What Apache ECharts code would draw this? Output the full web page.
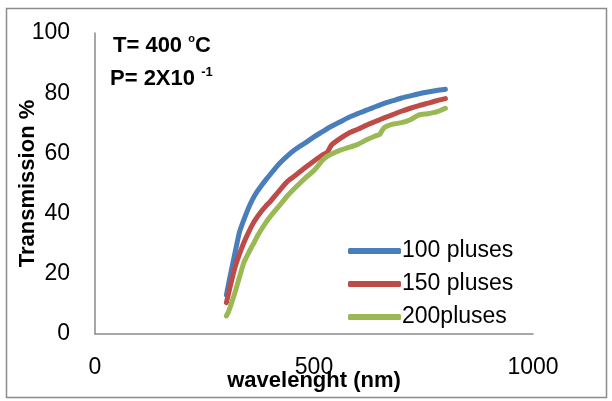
<!DOCTYPE html>
<html>
<head>
<meta charset="utf-8">
<script src="https://cdn.jsdelivr.net/npm/echarts@6/dist/echarts.min.js"></script>
<style>
  html, body { margin: 0; padding: 0; background: #fff; }
  #chart { width: 612px; height: 401px; }
</style>
</head>
<body>
<div id="chart"></div>
<script>
// Wavelength samples (nm)
var wavelength = [300, 305, 310, 320, 330, 340, 350, 360, 370, 380, 390, 400, 420, 440, 460, 480, 500, 520, 530, 540, 560, 580, 600, 620, 640, 650, 660, 680, 700, 720, 740, 760, 780, 800];

// Transmission (%) for each pulse count
var t100 = [13, 16.7, 20.3, 27.2, 33.9, 38, 41.7, 44.8, 47.3, 49.3, 51.2, 53, 56.5, 59.3, 61.6, 63.5, 65.5, 67.3, 68.2, 69, 70.5, 72, 73.2, 74.4, 75.5, 76.05, 76.6, 77.5, 78.4, 79.1, 79.8, 80.4, 80.9, 81.3];
var t150 = [10.4, 13.5, 16.6, 22.3, 26.6, 30.4, 33.6, 36.5, 38.8, 40.8, 42.5, 44, 47.5, 50.8, 53, 55.3, 57.5, 59.5, 60.3, 62.8, 65, 66.8, 68, 69.4, 70.6, 71.2, 71.8, 72.9, 74, 75, 75.9, 76.7, 77.5, 78.2];
var t200 = [6, 7.5, 9.5, 14, 19, 23.8, 26.8, 29.5, 32.3, 34.8, 37, 39, 42.5, 46, 49, 51.8, 54.3, 57.8, 59, 59.8, 61.1, 62, 63, 64.5, 65.8, 66.3, 68.5, 69.7, 70.2, 71.2, 72.8, 73.2, 73.8, 75];

var seriesNames = ['100 pluses', '150 pluses', '200pluses'];
var seriesColors = ['#4A7EBB', '#BE4B48', '#98B954'];

var xTicks = [0, 500, 1000];
var yTicks = [0, 20, 40, 60, 80, 100];

function pairs(values) {
  return wavelength.map(function (w, i) { return [w, values[i]]; });
}

var FONT = '"Liberation Sans", Arial, sans-serif';
var axisGray = '#8a8a8a';

var chart = echarts.init(document.getElementById('chart'), null, { renderer: 'canvas' });

chart.setOption({
  backgroundColor: '#ffffff',
  animation: false,
  textStyle: { fontFamily: FONT },
  grid: { left: 95, right: 79, top: 33, bottom: 67, containLabel: false, outerBoundsMode: 'none' },
  xAxis: {
    type: 'value',
    min: xTicks[0],
    max: xTicks[xTicks.length - 1],
    interval: 500,
    name: 'wavelenght (nm)',
    nameLocation: 'middle',
    nameGap: 36,
    nameMoveOverlap: false,
    nameTextStyle: { fontFamily: FONT, fontSize: 22, fontWeight: 'bold', color: '#000' },
    axisLine: { show: true, lineStyle: { color: axisGray, width: 1.5 } },
    axisTick: { show: false },
    splitLine: { show: false },
    axisLabel: { margin: 22, fontFamily: FONT, fontSize: 23, color: '#000', formatter: function (v) { return String(v); } }
  },
  yAxis: {
    type: 'value',
    min: yTicks[0],
    max: yTicks[yTicks.length - 1],
    interval: 20,
    name: 'Transmission %',
    nameLocation: 'middle',
    nameGap: 56,
    nameMoveOverlap: false,
    nameTextStyle: { fontFamily: FONT, fontSize: 22, fontWeight: 'bold', color: '#000' },
    axisLine: { show: true, lineStyle: { color: axisGray, width: 1.5 } },
    axisTick: { show: false },
    splitLine: { show: false },
    axisLabel: { margin: 25, fontFamily: FONT, fontSize: 23, color: '#000', formatter: function (v) { return String(v); } }
  },
  legend: {
    orient: 'vertical',
    left: 343,
    top: 234,
    itemWidth: 53,
    itemHeight: 6,
    itemGap: 9,
    icon: 'roundRect',
    textStyle: { fontFamily: FONT, fontSize: 23, color: '#000', lineHeight: 24, padding: [0, 0, 0, -4] },
    data: seriesNames
  },
  series: [t100, t150, t200].map(function (vals, i) {
    return {
      name: seriesNames[i],
      type: 'line',
      data: pairs(vals),
      showSymbol: false,
      smooth: 0.2,
      lineStyle: { width: 5, color: seriesColors[i], cap: 'round', join: 'round' },
      itemStyle: { color: seriesColors[i] }
    };
  }),
  graphic: [
    {
      type: 'rect',
      shape: { x: 6.5, y: 8.5, width: 600, height: 389 },
      style: { fill: 'none', stroke: '#8c8c8c', lineWidth: 1.5 },
      silent: true
    },
    {
      type: 'text',
      left: 113,
      top: 33,
      style: {
        text: '{b|T= 400 }{s|o}{b|C}',
        rich: {
          b: { fontFamily: FONT, fontSize: 22, fontWeight: 'bold', fill: '#000', lineHeight: 26 },
          s: { fontFamily: FONT, fontSize: 11, fontWeight: 'bold', fill: '#000', verticalAlign: 'top', lineHeight: 20 }
        }
      }
    },
    {
      type: 'text',
      left: 110,
      top: 66,
      style: {
        text: '{b|P= 2X10 }{s|-1}',
        rich: {
          b: { fontFamily: FONT, fontSize: 22, fontWeight: 'bold', fill: '#000', lineHeight: 26 },
          s: { fontFamily: FONT, fontSize: 13, fontWeight: 'bold', fill: '#000', verticalAlign: 'top', lineHeight: 20 }
        }
      }
    }
  ]
});
</script>
</body>
</html>
